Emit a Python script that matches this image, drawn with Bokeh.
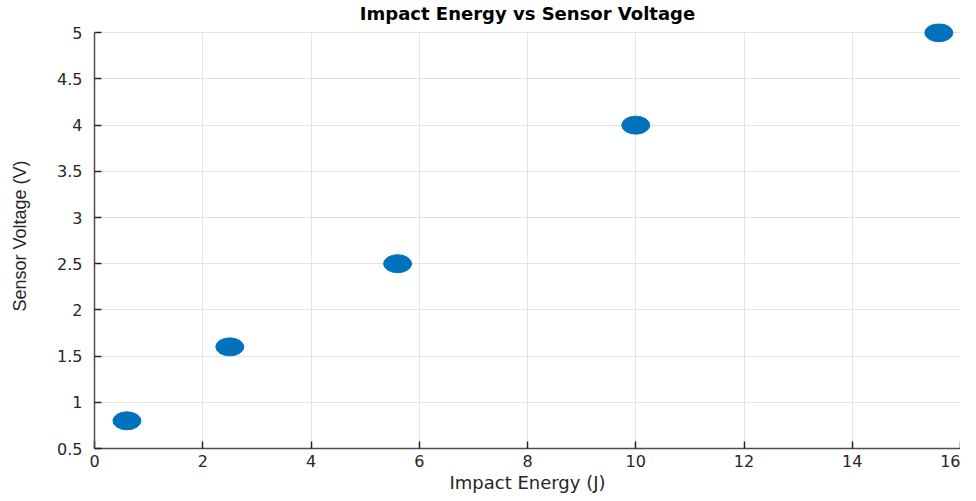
from bokeh.plotting import figure
from bokeh.models import FixedTicker, Range1d
from bokeh.embed import file_html
from bokeh.resources import INLINE

impact_energy = [0.6, 2.5, 5.6, 10.0, 15.6]
sensor_voltage = [0.8, 1.6, 2.5, 4.0, 5.0]

x_ticks = [0, 2, 4, 6, 8, 10, 12, 14, 16]
x_tick_labels = ["0", "2", "4", "6", "8", "10", "12", "14", "16"]
y_ticks = [0.5, 1, 1.5, 2, 2.5, 3, 3.5, 4, 4.5, 5]
y_tick_labels = ["0.5", "1", "1.5", "2", "2.5", "3", "3.5", "4", "4.5", "5"]

p = figure(width=960, height=495, output_backend="svg", toolbar_location=None,
           x_range=Range1d(0, 16), y_range=Range1d(0.5, 5.1),
           min_border_left=94, min_border_right=0, min_border_top=23, min_border_bottom=0)

p.title.text = "Impact Energy vs Sensor Voltage"
p.title.align = "center"
p.title.text_font = "DejaVu Sans"
p.title.text_font_size = "18px"
p.title.text_font_style = "bold"
p.title.text_color = "#000000"
p.title.offset = 0
p.title.standoff = 0

p.outline_line_color = None
p.background_fill_color = "white"

for ax in (p.xaxis[0], p.yaxis[0]):
    ax.axis_line_color = "#4d4d4d"
    ax.axis_line_width = 1.5
    ax.major_tick_line_color = "#262626"
    ax.major_tick_line_width = 1.5
    ax.major_tick_in = 7
    ax.major_tick_out = 0
    ax.minor_tick_line_color = None
    ax.major_label_text_font = "DejaVu Sans"
    ax.major_label_text_font_size = "16px"
    ax.major_label_text_color = "#262626"
    ax.axis_label_text_font = "DejaVu Sans"
    ax.axis_label_text_font_style = "normal"
    ax.axis_label_text_color = "#262626"

p.xaxis.ticker = FixedTicker(ticks=x_ticks)
p.xaxis.major_label_overrides = {t: l for t, l in zip(x_ticks, x_tick_labels)}
p.yaxis.ticker = FixedTicker(ticks=y_ticks)
p.yaxis.major_label_overrides = {t: l for t, l in zip(y_ticks, y_tick_labels)}
p.yaxis.bounds = (y_ticks[0], y_ticks[-1])

p.xaxis.axis_label = "Impact Energy (J)"
p.xaxis.axis_label_text_font_size = "18px"
p.xaxis.major_label_standoff = 6
p.xaxis.axis_label_standoff = 2
p.yaxis.axis_label = "Sensor Voltage (V)"
p.yaxis.axis_label_text_font = "Liberation Sans"
p.yaxis.axis_label_text_font_size = "18px"
p.yaxis.major_label_standoff = 12
p.yaxis.axis_label_standoff = 24

p.xgrid.grid_line_color = "#e3e3e3"
p.ygrid.grid_line_color = "#e3e3e3"
p.xgrid.grid_line_width = 1
p.ygrid.grid_line_width = 1
p.xgrid.cross_bounds = (y_ticks[0], y_ticks[-1])

p.ellipse(x=impact_energy, y=sensor_voltage, width=28, height=18,
          width_units="screen", height_units="screen",
          fill_color="#0072BD", line_color="#0072BD")

open("out.html", "w").write(file_html(p, INLINE))
